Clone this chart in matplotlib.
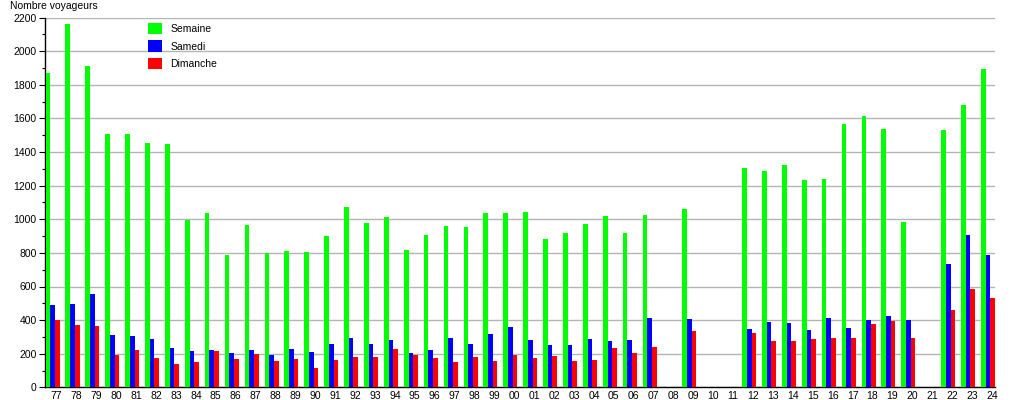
import numpy as np
import matplotlib.pyplot as plt
from matplotlib.ticker import MultipleLocator
from matplotlib.patches import Patch

years = ["77", "78", "79", "80", "81", "82", "83", "84", "85", "86", "87", "88",
         "89", "90", "91", "92", "93", "94", "95", "96", "97", "98", "99", "00",
         "01", "02", "03", "04", "05", "06", "07", "08", "09", "10", "11", "12",
         "13", "14", "15", "16", "17", "18", "19", "20", "21", "22", "23", "24"]
nan = np.nan
semaine = [1872, 2162, 1912, 1508, 1508, 1456, 1448, 996, 1037, 787, 966, 799,
           811, 805, 900, 1073, 978, 1014, 817, 906, 960, 954, 1037, 1037,
           1043, 883, 918, 972, 1020, 918, 1026, nan, 1061, nan, nan, 1305,
           1288, 1323, 1234, 1240, 1567, 1615, 1537, 984, nan, 1532, 1680, 1895]
samedi = [490, 496, 555, 311, 305, 287, 234, 216, 222, 204, 222, 192,
          228, 210, 258, 293, 258, 282, 204, 222, 293, 258, 317, 359,
          282, 252, 252, 287, 276, 282, 412, nan, 406, nan, nan, 346,
          389, 383, 341, 412, 353, 401, 424, 401, nan, 734, 906, 787]
dimanche = [401, 371, 365, 194, 222, 174, 139, 151, 216, 168, 198, 157,
            168, 115, 163, 180, 180, 228, 192, 174, 151, 180, 157, 192,
            174, 186, 157, 163, 234, 204, 240, nan, 335, nan, nan, 323,
            276, 276, 287, 293, 293, 377, 395, 293, nan, 460, 585, 531]

series = [("Semaine", semaine, "#00ff00"),
          ("Samedi", samedi, "#0000ff"),
          ("Dimanche", dimanche, "#ff0000")]

plt.rcParams['font.family'] = ['Liberation Sans', 'DejaVu Sans']
fs = 7.5

fig = plt.figure(figsize=(10.15, 4.0), dpi=100)
ax = fig.add_axes([45 / 1015, 12.7 / 400, 950 / 1015, 369.6 / 400])

x = np.arange(len(years))
w = 0.235
for k, (name, vals, col) in enumerate(series):
    ax.bar(x + k * w, vals, width=w, align='edge', color=col, linewidth=0, zorder=3)

ax.set_xlim(-0.03, len(years) - 1 + 3 * w)
ax.set_ylim(0, 2200)
ax.yaxis.set_major_locator(MultipleLocator(200))
ax.yaxis.set_minor_locator(MultipleLocator(100))
ax.grid(axis='y', which='major', color='#b4b4b4', linewidth=1, zorder=0)
ax.set_axisbelow(True)

ax.set_xticks(x + 0.55)
ax.set_xticklabels(years)
ax.tick_params(axis='x', length=0, pad=3, labelsize=fs)
ax.tick_params(axis='y', which='major', length=4, width=0.8, labelsize=fs, pad=2)
ax.tick_params(axis='y', which='minor', length=2, width=0.8)

for s in ['top', 'right']:
    ax.spines[s].set_visible(False)
for s in ['left', 'bottom']:
    ax.spines[s].set_linewidth(1)

fig.text(10 / 1015, 1 - 6 / 400, "Nombre voyageurs", fontsize=fs, va='center', ha='left')

handles = [Patch(facecolor=c, edgecolor='none', label=n) for n, v, c in series]
ax.legend(handles=handles, loc='upper left', bbox_to_anchor=(97 / 950, 1.003),
          frameon=False, fontsize=fs, handlelength=1.3, handleheight=1.3,
          handletextpad=0.8, labelspacing=0.6, borderaxespad=0.2)

fig.savefig("out.png", dpi=100)
